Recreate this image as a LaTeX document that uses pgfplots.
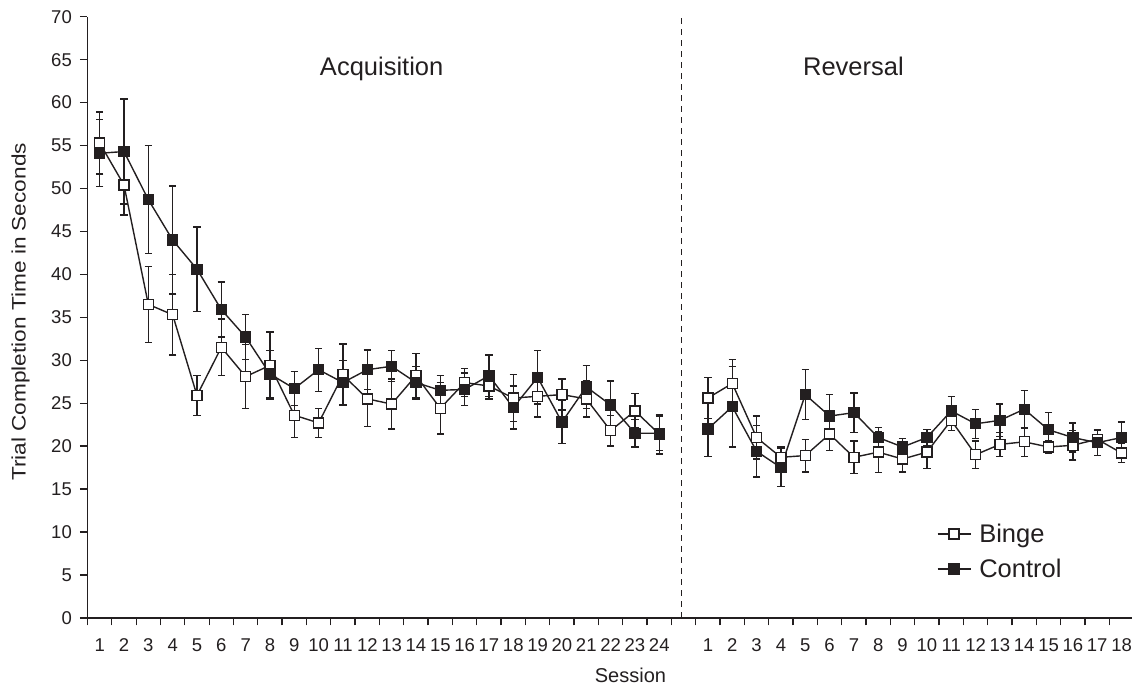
\documentclass[border=0pt]{standalone}
\usepackage{pgfplots}
\pgfplotsset{compat=1.18}
\usepackage{fontspec}
\setmainfont{Liberation Sans}
\definecolor{ink}{RGB}{35,31,32}

\begin{document}
\begin{tikzpicture}
\begin{axis}[
  scale only axis,
  width=1046.2pt, height=601.2pt,
  xmin=0.5, xmax=43.5, ymin=0, ymax=70,
  axis x line*=bottom, axis y line*=left,
  axis line style={ink, line width=1.3pt},
  every tick/.style={ink, line width=1.3pt},
  tick align=outside,
  major tick length=7.5pt,
  xtick={0.5,1.5,...,43.5}, xticklabels={},
  extra x ticks={1,2,...,24,26,27,...,43},
  extra x tick labels={1,2,3,4,5,6,7,8,9,10,11,12,13,14,15,16,17,18,19,20,21,22,23,24,1,2,3,4,5,6,7,8,9,10,11,12,13,14,15,16,17,18},
  extra x tick style={major tick length=0pt, xticklabel style={anchor=base, inner sep=0pt, yshift=-33.8pt}},
  ytick={0,5,...,70},
  yticklabel style={anchor=east, inner sep=0pt, xshift=-8pt},
  /pgf/number format/assume math mode=true,
  ticklabel style={font=\fontsize{18.5}{22}\selectfont, text=ink},
  clip=false,
  every axis y label/.style={at={([xshift=-66.8pt]rel axis cs:0,0.509)}, rotate=90, xscale=1.16, anchor=center, font=\fontsize{19.5}{23}\selectfont, text=ink},
  ylabel={Trial Completion Time in Seconds},
  every axis x label/.style={at={([yshift=-57.1pt]rel axis cs:0.519,0)}, anchor=center, font=\fontsize{20}{23}\selectfont, text=ink},
  xlabel={Session},
  legend style={draw=none, fill=none, inner sep=0pt, at={([xshift=849.2pt,yshift=96pt]rel axis cs:0,0)}, anchor=north west,
    font=\fontsize{25.5}{28}\selectfont, text=ink, row sep=11pt, column sep=6pt, nodes={inner sep=2pt}},
  legend cell align=left,
  legend image code/.code={\draw[mark repeat=2,mark phase=2] plot coordinates {(0pt,0pt) (16.5pt,0pt) (33pt,0pt)};},
  every axis plot/.append style={line width=1.4pt, ink},
  error bars/y dir=both, error bars/y explicit,
  error bars/error bar style={line width=1.3pt, ink},
  error bars/error mark options={rotate=90, mark size=3.6pt, line width=1.3pt, ink},
]
\coordinate (O) at (rel axis cs:0,0);

\draw[ink, line width=1.2pt, dash pattern=on 6pt off 5pt] (axis cs:24.93,0) -- (axis cs:24.93,70);

% Binge acquisition
\addplot[ink, mark=square*, mark size=5pt, mark options={fill=white, draw=ink, line width=1.3pt}]
  coordinates {
  (1,55.3) +- (0,3.6)
  (2,50.4) +- (0,3.5)
  (3,36.5) +- (0,4.4)
  (4,35.3) +- (0,4.7)
  (5,25.9) +- (0,2.35)
  (6,31.5) +- (0,3.3)
  (7,28.1) +- (0,3.7)
  (8,29.4) +- (0,3.9)
  (9,23.6) +- (0,2.6)
  (10,22.7) +- (0,1.7)
  (11,28.3) +- (0,3.6)
  (12,25.5) +- (0,3.2)
  (13,24.9) +- (0,2.9)
  (14,28.2) +- (0,2.6)
  (15,24.4) +- (0,3.0)
  (16,27.4) +- (0,1.6)
  (17,27.0) +- (0,1.5)
  (18,25.6) +- (0,2.7)
  (19,25.8) +- (0,2.4)
  (20,26.0) +- (0,1.8)
  (21,25.5) +- (0,2.1)
  (22,21.8) +- (0,1.8)
  (23,24.1) +- (0,2.0)
  (24,21.4) +- (0,2.3)
  };
\addlegendentry{Binge}
% Binge reversal
\addplot[forget plot, ink, mark=square*, mark size=5pt, mark options={fill=white, draw=ink, line width=1.3pt}]
  coordinates {
  (26,25.6) +- (0,2.4)
  (27,27.3) +- (0,2.8)
  (28,21.0) +- (0,2.5)
  (29,18.7) +- (0,1.2)
  (30,18.9) +- (0,1.9)
  (31,21.4) +- (0,1.9)
  (32,18.7) +- (0,1.9)
  (33,19.3) +- (0,2.4)
  (34,18.5) +- (0,1.5)
  (35,19.3) +- (0,1.9)
  (36,23.0) +- (0,1.2)
  (37,19.0) +- (0,1.6)
  (38,20.2) +- (0,1.4)
  (39,20.5) +- (0,1.7)
  (40,19.9) +- (0,0.7)
  (41,20.1) +- (0,1.7)
  (42,20.8) +- (0,1.0)
  (43,19.2) +- (0,1.1)
  };
% Control acquisition
\addplot[ink, mark=square*, mark size=5pt, mark options={fill=ink, draw=ink, line width=1.3pt}]
  coordinates {
  (1,54.1) +- (0,3.9)
  (2,54.3) +- (0,6.1)
  (3,48.7) +- (0,6.3)
  (4,44.0) +- (0,6.3)
  (5,40.6) +- (0,4.9)
  (6,35.9) +- (0,3.2)
  (7,32.7) +- (0,2.6)
  (8,28.4) +- (0,2.7)
  (9,26.7) +- (0,2.0)
  (10,28.9) +- (0,2.5)
  (11,27.4) +- (0,2.6)
  (12,28.9) +- (0,2.3)
  (13,29.3) +- (0,1.8)
  (14,27.4) +- (0,1.9)
  (15,26.5) +- (0,1.7)
  (16,26.6) +- (0,1.9)
  (17,28.2) +- (0,2.4)
  (18,24.5) +- (0,2.5)
  (19,28.0) +- (0,3.1)
  (20,22.8) +- (0,2.5)
  (21,26.9) +- (0,2.5)
  (22,24.8) +- (0,2.8)
  (23,21.5) +- (0,1.6)
  (24,21.5) +- (0,2.0)
  };
\addlegendentry{Control}
% Control reversal
\addplot[forget plot, ink, mark=square*, mark size=5pt, mark options={fill=ink, draw=ink, line width=1.3pt}]
  coordinates {
  (26,22.0) +- (0,3.2)
  (27,24.6) +- (0,4.7)
  (28,19.4) +- (0,3.0)
  (29,17.5) +- (0,2.2)
  (30,26.0) +- (0,2.9)
  (31,23.5) +- (0,2.5)
  (32,23.9) +- (0,2.3)
  (33,21.0) +- (0,1.2)
  (34,19.9) +- (0,1.0)
  (35,21.0) +- (0,0.9)
  (36,24.1) +- (0,1.7)
  (37,22.6) +- (0,1.7)
  (38,23.0) +- (0,1.9)
  (39,24.3) +- (0,2.2)
  (40,21.9) +- (0,2.0)
  (41,21.0) +- (0,1.7)
  (42,20.4) +- (0,1.5)
  (43,21.0) +- (0,1.8)
  };

\node[anchor=base, font=\fontsize{25.5}{28}\selectfont, text=ink] at (axis cs:12.59,63.1) {Acquisition};
\node[anchor=base, font=\fontsize{25.5}{28}\selectfont, text=ink] at (axis cs:31.98,63.1) {Reversal};
\end{axis}
\pgfresetboundingbox
\path[use as bounding box] (O) ++(-87.5pt,-71.1pt) rectangle ++(1132pt,689pt);
\end{tikzpicture}
\end{document}
